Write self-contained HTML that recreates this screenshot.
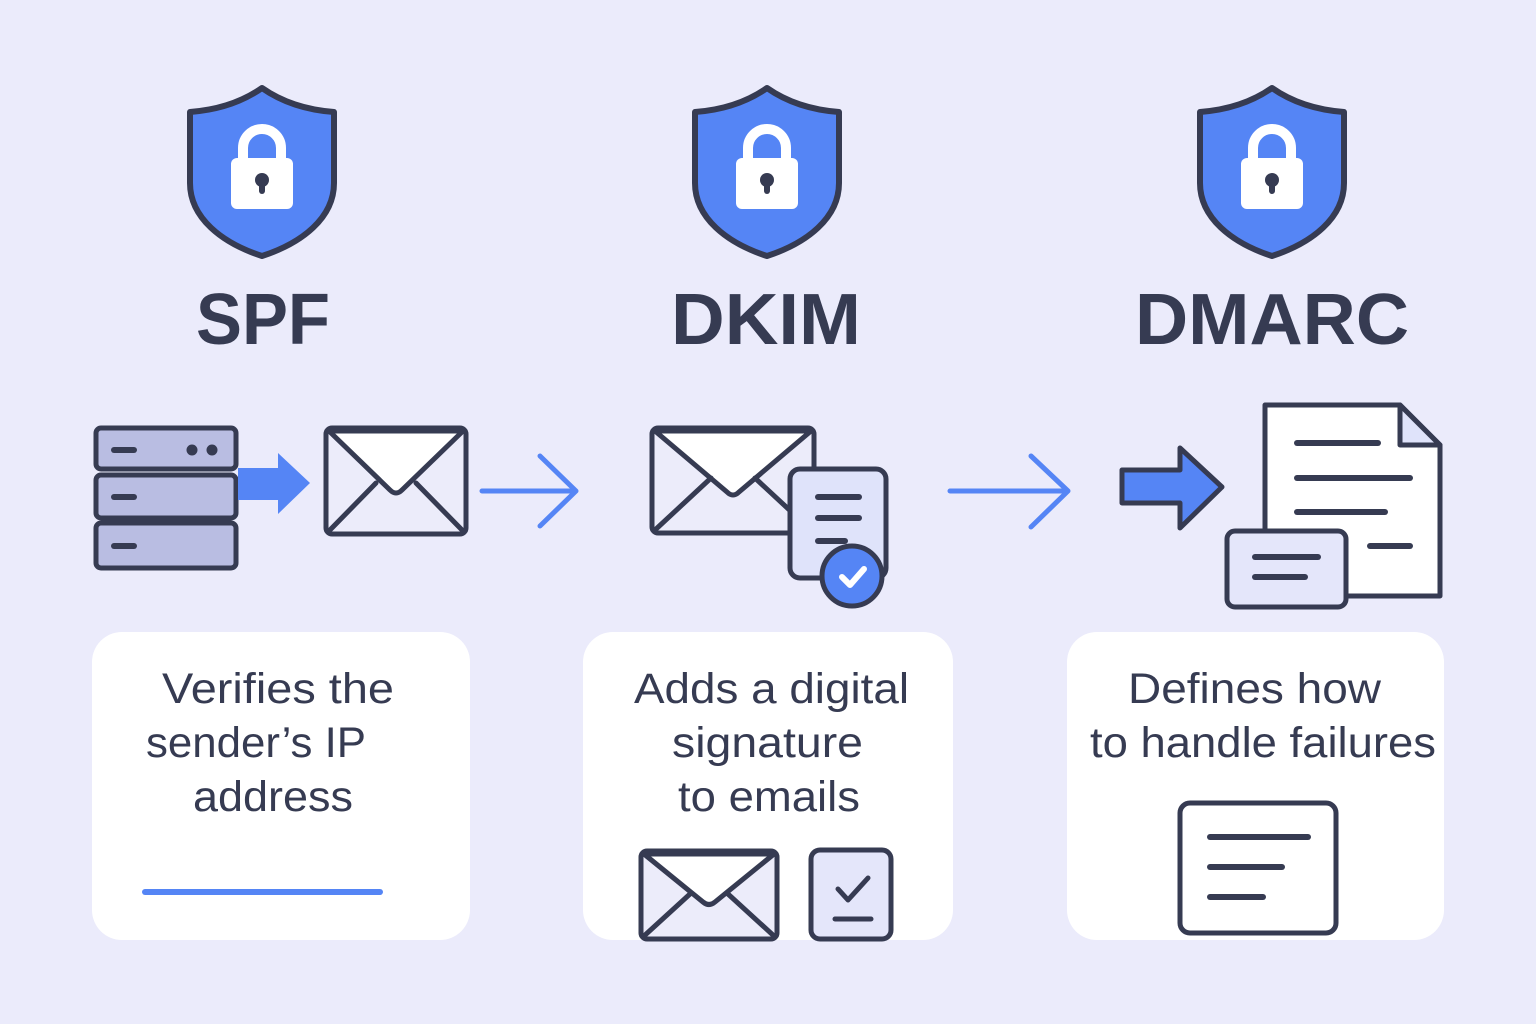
<!DOCTYPE html>
<html><head><meta charset="utf-8"><style>
html,body{margin:0;padding:0;background:#ebebfb;}
svg{display:block}
text{font-family:"Liberation Sans","DejaVu Sans",sans-serif;fill:#363b52}
</style></head><body>
<svg width="1536" height="1024" viewBox="0 0 1536 1024" xmlns="http://www.w3.org/2000/svg">
<defs>
<g id="shield">
<path d="M0,0 C20,14 45,22 72,24 L72,95 C72,130 40,155 0,168 C-40,155 -72,130 -72,95 L-72,24 C-45,22 -20,14 0,0 Z" fill="#5585f5" stroke="#363b52" stroke-width="6" stroke-linejoin="round"/>
<path d="M-19,74 V60 A19,19 0 0 1 19,60 V74" fill="none" stroke="#fff" stroke-width="10"/>
<rect x="-31" y="70" width="62" height="51" rx="6" fill="#fff"/>
<circle cx="0" cy="92" r="7" fill="#363b52"/>
<rect x="-3" y="92" width="6" height="14" rx="3" fill="#363b52"/>
</g>
</defs>
<rect width="1536" height="1024" fill="#ebebfb"/>

<use href="#shield" x="262" y="88"/>
<use href="#shield" x="767" y="88"/>
<use href="#shield" x="1272" y="88"/>

<text x="263" y="344" font-size="72" font-weight="bold" text-anchor="middle" textLength="134" lengthAdjust="spacingAndGlyphs">SPF</text>
<text x="766" y="344" font-size="72" font-weight="bold" text-anchor="middle" textLength="190" lengthAdjust="spacingAndGlyphs">DKIM</text>
<text x="1272" y="344" font-size="72" font-weight="bold" text-anchor="middle" textLength="274" lengthAdjust="spacingAndGlyphs">DMARC</text>

<g stroke="#363b52" stroke-width="5" stroke-linejoin="round" stroke-linecap="round">
<rect x="96" y="428" width="140" height="41" rx="5" fill="#b9bde2"/>
<rect x="96" y="475" width="140" height="43" rx="5" fill="#b9bde2"/>
<rect x="96" y="523" width="140" height="45" rx="5" fill="#b9bde2"/>
<line x1="114" y1="450" x2="134" y2="450" stroke-width="6"/>
<line x1="114" y1="497" x2="134" y2="497" stroke-width="6"/>
<line x1="114" y1="546" x2="134" y2="546" stroke-width="6"/>
<circle cx="192" cy="450" r="3" fill="#363b52"/>
<circle cx="212" cy="450" r="3" fill="#363b52"/>
</g>
<path d="M238,468 H278 V453 L310,483 L278,514 V500 H238 Z" fill="#5585f5"/>
<g stroke="#363b52" stroke-width="5" stroke-linejoin="round" stroke-linecap="round">
<rect x="326" y="428" width="140" height="106" rx="6" fill="#ececfa"/>
<path d="M329,431 L390,490 Q396,496 402,490 L463,431 Z" fill="#fff"/>
<line x1="329" y1="531" x2="376" y2="483"/>
<line x1="463" y1="531" x2="416" y2="483"/>
</g>
<g stroke="#5585f5" stroke-width="5" stroke-linecap="round" stroke-linejoin="round" fill="none">
<path d="M482,491 H576 M540,456 L576,491 L540,526"/>
<path d="M950,491 H1068 M1031,456 L1068,491 L1031,527"/>
</g>

<g stroke="#363b52" stroke-width="5" stroke-linejoin="round" stroke-linecap="round">
<rect x="652" y="428" width="162" height="105" rx="6" fill="#ececfa"/>
<path d="M655,431 L727,492 Q733,498 739,492 L811,431 Z" fill="#fff"/>
<line x1="655" y1="530" x2="711" y2="478"/>
<line x1="811" y1="530" x2="755" y2="478"/>
<rect x="790" y="469" width="96" height="109" rx="10" fill="#dfe3fa"/>
<line x1="818" y1="497" x2="859" y2="497" stroke-width="6"/>
<line x1="818" y1="518" x2="859" y2="518" stroke-width="6"/>
<line x1="818" y1="541" x2="845" y2="541" stroke-width="6"/>
<circle cx="852" cy="576" r="30" fill="#5585f5"/>
<path d="M842,577 L850,585 L864,569" stroke="#fff" stroke-width="6" fill="none"/>
</g>

<g stroke="#363b52" stroke-width="5" stroke-linejoin="round" stroke-linecap="round">
<path d="M1122,470 H1180 V448 L1222,487 L1180,528 V503 H1122 Z" fill="#5585f5"/>
<path d="M1265,405 H1400 L1440,445 V596 H1265 Z" fill="#fff"/>
<path d="M1400,405 V445 H1440 Z" fill="#dfe3fa"/>
<line x1="1297" y1="443" x2="1378" y2="443" stroke-width="6"/>
<line x1="1297" y1="478" x2="1410" y2="478" stroke-width="6"/>
<line x1="1297" y1="512" x2="1385" y2="512" stroke-width="6"/>
<line x1="1370" y1="546" x2="1410" y2="546" stroke-width="6"/>
<rect x="1227" y="531" width="119" height="76" rx="8" fill="#e4e6fa"/>
<line x1="1255" y1="557" x2="1318" y2="557" stroke-width="6"/>
<line x1="1255" y1="577" x2="1305" y2="577" stroke-width="6"/>
</g>

<rect x="92" y="632" width="378" height="308" rx="30" fill="#fff"/>
<rect x="583" y="632" width="370" height="308" rx="30" fill="#fff"/>
<rect x="1067" y="632" width="377" height="308" rx="30" fill="#fff"/>

<g font-size="43" lengthAdjust="spacingAndGlyphs">
<text x="162" y="703" textLength="232" lengthAdjust="spacingAndGlyphs">Verifies the</text>
<text x="146" y="757" textLength="220" lengthAdjust="spacingAndGlyphs">sender’s IP</text>
<text x="193" y="811" textLength="160" lengthAdjust="spacingAndGlyphs">address</text>
<text x="634" y="703" textLength="275" lengthAdjust="spacingAndGlyphs">Adds a digital</text>
<text x="672" y="757" textLength="191" lengthAdjust="spacingAndGlyphs">signature</text>
<text x="678" y="811" textLength="182" lengthAdjust="spacingAndGlyphs">to emails</text>
<text x="1128" y="703" textLength="253" lengthAdjust="spacingAndGlyphs">Defines how</text>
<text x="1090" y="757" textLength="346" lengthAdjust="spacingAndGlyphs">to handle failures</text>
</g>

<line x1="145" y1="892" x2="380" y2="892" stroke="#5585f5" stroke-width="6" stroke-linecap="round"/>

<g stroke="#363b52" stroke-width="5" stroke-linejoin="round" stroke-linecap="round">
<rect x="641" y="851" width="136" height="88" rx="6" fill="#ececfa"/>
<path d="M644,854 L703,902 Q709,907 715,902 L774,854 Z" fill="#fff"/>
<line x1="644" y1="936" x2="690" y2="894"/>
<line x1="774" y1="936" x2="728" y2="894"/>
<rect x="811" y="850" width="80" height="89" rx="9" fill="#e4e6fa"/>
<path d="M838,889 L848,900 L868,878" fill="none"/>
<line x1="835" y1="919" x2="871" y2="919"/>
<rect x="1180" y="803" width="156" height="130" rx="10" fill="#fff"/>
<line x1="1210" y1="837" x2="1308" y2="837" stroke-width="6"/>
<line x1="1210" y1="867" x2="1282" y2="867" stroke-width="6"/>
<line x1="1210" y1="897" x2="1263" y2="897" stroke-width="6"/>
</g>
</svg>
</body></html>
